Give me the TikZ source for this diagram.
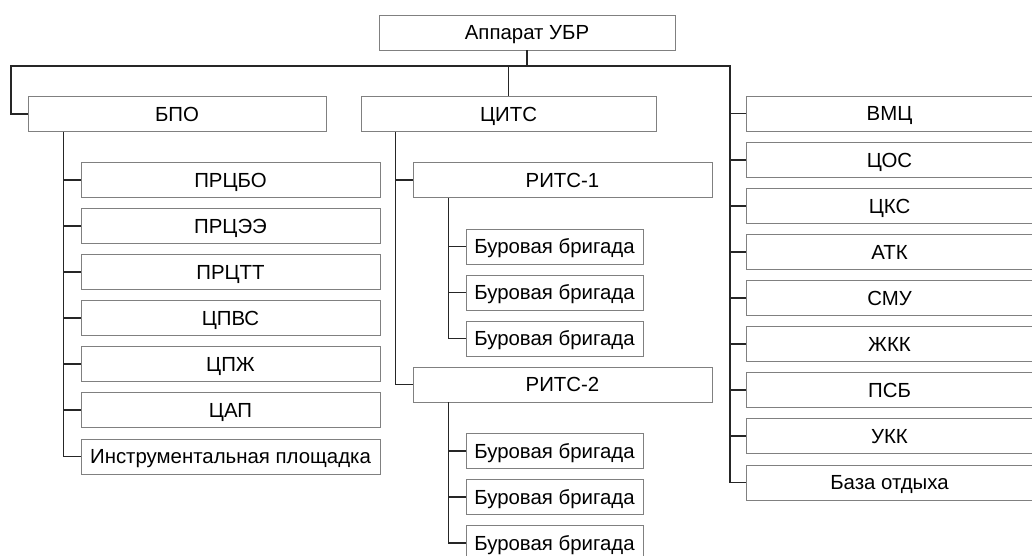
\documentclass[tikz,border=0pt]{standalone}
\usepackage{fontspec}
\setmainfont{Liberation Sans}
\usepackage{tikz}
\usetikzlibrary{positioning,calc}
\tikzset{
  unit/.style={draw=black!50, fill=white, line width=0.9pt, minimum height=35pt,
    inner sep=0pt, text height=14.6pt, text depth=0pt,
    font=\fontsize{20.4}{24}\selectfont},
  link/.style={draw=black!85, line width=1.1pt},
}

\begin{document}
\begin{tikzpicture}[x=1pt,y=-1pt]
    \useasboundingbox (0,0) rectangle (1032,556);
    \clip (0,0) rectangle (1032,556);

    % Top: head and first level
    \node[unit, minimum width=296pt] (top) at (527,32.5) {Аппарат УБР};
    \node[unit, minimum width=298pt] (bpo) at (177,114) {БПО};
    \node[unit, minimum width=295pt] (cits) at (508.5,114) {ЦИТС};

    \coordinate (busL) at (11,66);
    \coordinate (busR) at (730,66);

    % Right column
    \node[unit, minimum width=287pt] (vmc) at (889.5,113.5) {ВМЦ};
    \node[unit, minimum width=287pt] (cos) at (889.5,160) {ЦОС};
    \node[unit, minimum width=287pt] (cks) at (889.5,206) {ЦКС};
    \node[unit, minimum width=287pt] (atk) at (889.5,252) {АТК};
    \node[unit, minimum width=287pt] (smu) at (889.5,298) {СМУ};
    \node[unit, minimum width=287pt] (zhkk) at (889.5,344) {ЖКК};
    \node[unit, minimum width=287pt] (psb) at (889.5,390) {ПСБ};
    \node[unit, minimum width=287pt] (ukk) at (889.5,436) {УКК};
    \node[unit, minimum width=287pt] (baza) at (889.5,482.5) {База отдыха};

    % Left column: under БПО
    \node[unit, minimum width=299pt] (prcbo) at (230.5,180) {ПРЦБО};
    \node[unit, minimum width=299pt] (prcee) at (230.5,226) {ПРЦЭЭ};
    \node[unit, minimum width=299pt] (prctt) at (230.5,272) {ПРЦТТ};
    \node[unit, minimum width=299pt] (cpvs) at (230.5,318) {ЦПВС};
    \node[unit, minimum width=299pt] (cpzh) at (230.5,364) {ЦПЖ};
    \node[unit, minimum width=299pt] (cap) at (230.5,410) {ЦАП};
    \node[unit, minimum width=299pt] (instr) at (230.5,456.5) {Инструментальная площадка};

    % Middle column: under ЦИТС
    \node[unit, minimum width=299pt] (rits1) at (562.5,180) {РИТС-1};
    \node[unit, minimum width=177pt] (br11) at (554.5,246.5) {Буровая бригада};
    \node[unit, minimum width=177pt] (br12) at (554.5,292.5) {Буровая бригада};
    \node[unit, minimum width=177pt] (br13) at (554.5,338.5) {Буровая бригада};
    \node[unit, minimum width=299pt] (rits2) at (562.5,384.5) {РИТС-2};
    \node[unit, minimum width=177pt] (br21) at (554.5,451) {Буровая бригада};
    \node[unit, minimum width=177pt] (br22) at (554.5,497) {Буровая бригада};
    \node[unit, minimum width=177pt] (br23) at (554.5,543) {Буровая бригада};

    % Connectors
    \draw[link] (bpo.west) -| (busL) -- (busR) |- (baza.west);
    \draw[link] (top.south) -- (top.south |- busL);
    \draw[link] (cits.north) -- (cits.north |- busL);
    \foreach \n in {vmc,cos,cks,atk,smu,zhkk,psb,ukk}
        \draw[link] (busR |- \n.west) -- (\n.west);

    \draw[link] (bpo.south west) ++(36,0) coordinate (bpoS) |- (instr.west);
    \foreach \n in {prcbo,prcee,prctt,cpvs,cpzh,cap}
        \draw[link] (bpoS |- \n.west) -- (\n.west);

    \draw[link] (cits.south west) ++(35,0) coordinate (citsS) |- (rits2.west);
    \draw[link] (citsS |- rits1.west) -- (rits1.west);

    \draw[link] (rits1.south west) ++(36,0) coordinate (r1S) |- (br13.west);
    \draw[link] (r1S |- br11.west) -- (br11.west);
    \draw[link] (r1S |- br12.west) -- (br12.west);

    \draw[link] (rits2.south west) ++(36,0) coordinate (r2S) |- (br23.west);
    \draw[link] (r2S |- br21.west) -- (br21.west);
    \draw[link] (r2S |- br22.west) -- (br22.west);
\end{tikzpicture}
\end{document}
